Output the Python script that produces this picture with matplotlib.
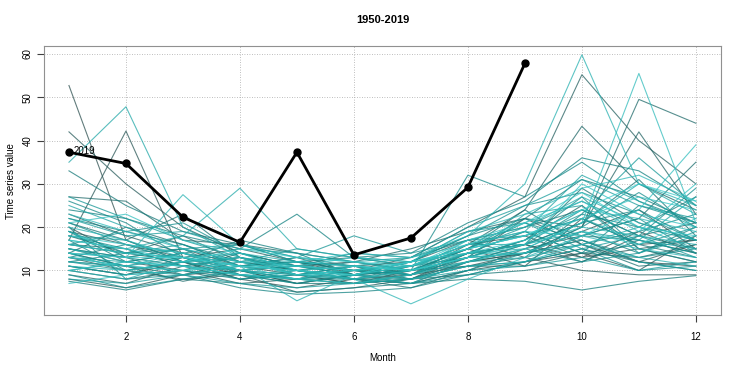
import numpy as np
import matplotlib
matplotlib.use("Agg")
import matplotlib.pyplot as plt
from matplotlib.colors import LinearSegmentedColormap

plt.rcParams["font.family"] = ["Liberation Sans", "DejaVu Sans"]

months = list(range(1, 13))
years = list(range(1950, 2019))

# one row per year, Jan..Dec
values = [
    [14, 11, 9, 10, 7, 9, 8, 12, 14, 17, 12, 11],
    [52.7, 17, 12, 9, 8, 10, 9, 14, 16, 13, 19, 14],
    [20, 13, 15, 11, 9, 7, 10, 15, 11, 22, 16, 17],
    [11, 9, 12, 8, 6, 8, 7, 10, 12, 14, 10, 18],
    [17, 42.2, 13, 10, 12, 9, 11, 16, 18, 13, 15, 12],
    [8, 6, 9, 12, 10, 8, 9, 11, 14, 19, 24, 15],
    [42, 30, 20, 14, 11, 12, 10, 13, 22, 16, 12, 16],
    [15, 12, 10, 7, 8, 11, 12, 17, 13, 10, 9, 9],
    [19, 16, 13, 15, 12, 10, 13, 20, 27, 55.2, 40, 30],
    [13, 10, 8, 9, 5, 6, 8, 14, 16, 12, 18, 21],
    [23, 18, 14, 11, 13, 9, 7, 12, 14, 20, 42, 23],
    [9, 7, 11, 13, 9, 7, 8, 13, 17, 25, 15, 17],
    [16, 14, 18, 12, 10, 11, 9, 16, 24, 43.3, 30, 24],
    [27, 26, 17, 16, 14, 12, 15, 19, 22, 20, 49.5, 44],
    [12, 11, 7.5, 10, 7, 9, 10, 11, 11, 14, 13, 16],
    [18, 14, 12, 8, 9, 8, 6, 10, 15, 18, 22, 35],
    [14, 20, 16, 11, 12, 13, 11, 15, 24, 16, 11, 12],
    [21, 17, 23, 13, 10, 9, 12, 14, 16, 29, 21, 17],
    [10, 8, 10, 14, 11, 10, 8, 9, 10, 12, 17, 14],
    [16, 15, 11, 9, 7, 7, 9, 12, 16, 21, 31, 18],
    [33, 25, 19, 16, 12, 10, 10, 14, 19, 14, 16, 13],
    [7.5, 5.5, 8, 7, 5, 6, 7, 8, 7.5, 5.5, 7.5, 8.8],
    [19, 12, 14, 10, 11, 14, 13, 17, 20, 24, 18, 15],
    [13, 16, 12, 17, 14, 9, 10, 15, 22, 31, 27, 21],
    [24, 22, 18, 15, 23, 13, 14, 21, 26, 36, 33, 25],
    [11, 9, 13, 10, 8, 8, 11, 13, 14, 19, 14, 20],
    [15, 13, 9, 6, 4.5, 5, 6, 9, 12, 15, 12, 10],
    [22, 19, 16, 12, 9, 11, 8, 11, 13, 23, 20, 27],
    [17, 10, 12, 13, 11, 9, 12, 18, 22, 18, 17, 14],
    [12, 14, 15, 9, 8, 7, 9, 14, 16, 21, 24, 17],
    [26, 21, 13, 11, 10, 12, 10, 32, 27, 35, 26, 21],
    [14, 11, 10, 8, 10, 8, 7, 10, 14, 16, 19, 23],
    [10, 12, 14, 16, 13, 11, 9, 13, 17, 27, 15, 12],
    [18, 15, 11, 10, 9, 10, 11, 16, 19, 14, 25, 21],
    [20, 8, 9, 11, 12, 8, 8, 12, 16, 24, 18, 29],
    [13, 11, 13, 9, 7, 9, 10, 15, 21, 17, 13, 15],
    [16, 19, 21, 14, 11, 10, 9, 13, 14, 20, 28, 20],
    [9, 6, 8, 10, 8, 7, 8, 11, 12, 15, 10, 11],
    [21, 16, 14, 12, 15, 13, 12, 18, 25, 28, 23, 17],
    [15, 13, 11, 8, 9, 11, 10, 12, 15, 12, 14, 19],
    [12, 10, 12, 14, 10, 8, 7, 9, 12, 18, 22, 14],
    [19, 14, 16, 11, 13, 18, 14, 17, 18, 22, 16, 20],
    [27, 22, 17, 13, 10, 9, 11, 15, 20, 26, 20, 17],
    [11, 9, 10, 9, 8, 10, 9, 14, 14, 17, 12, 10],
    [14, 13, 15, 16, 12, 11, 10, 13, 17, 23, 36, 25],
    [18, 17, 12, 10, 11, 9, 12, 19, 21, 15, 18, 13],
    [8, 7, 9, 7, 6, 7, 8, 10, 11, 13, 10, 12],
    [22, 18, 19, 15, 14, 12, 13, 20, 25, 31, 25, 22],
    [13, 12, 11, 13, 9, 10, 11, 16, 16, 19, 17, 27],
    [16, 14, 13, 11, 10, 8, 10, 13, 23, 25, 14, 18],
    [25, 20, 15, 12, 12, 11, 9, 14, 19, 32, 26, 20],
    [10, 8, 12, 10, 8, 9, 7, 12, 13, 16, 20, 15],
    [35, 47.8, 20, 13, 11, 10, 12, 15, 18, 22, 17, 15],
    [17, 15, 18, 29, 15, 13, 11, 14, 15, 21, 30, 23],
    [12, 11, 14, 10, 9, 8, 10, 17, 20, 27, 21, 17],
    [14, 10, 9, 11, 3, 9, 8, 11, 12, 16, 13, 11],
    [20, 17, 13, 14, 12, 11, 13, 18, 30, 59.8, 30, 25],
    [19, 13, 27.5, 16, 13, 12, 10, 14, 16, 20, 18, 16],
    [15, 12, 11, 9, 10, 8, 2.3, 8, 13, 18, 15, 13],
    [11, 10, 12, 13, 9, 10, 11, 15, 18, 24, 22, 19],
    [23, 19, 15, 12, 11, 13, 12, 19, 23, 29, 32, 26],
    [7, 9, 10, 11, 8, 7, 9, 12, 15, 21, 55.5, 21],
    [16, 14, 13, 10, 12, 14, 13, 16, 19, 18, 24, 39],
    [21, 23, 17, 14, 10, 11, 10, 13, 16, 30, 23, 20],
    [13, 11, 10, 12, 9, 9, 11, 17, 21, 26, 19, 30],
    [18, 16, 14, 11, 11, 10, 12, 14, 17, 22, 27, 24],
    [10, 12, 11, 9, 8, 11, 10, 13, 14, 19, 16, 22],
    [17, 15, 12, 15, 13, 12, 11, 16, 21, 28, 20, 18],
    [14, 13, 13, 11, 10, 9, 12, 15, 18, 24, 30, 26],
]

months_2019 = list(range(1, 10))
values_2019 = [37.3, 34.7, 22.3, 16.5, 37.3, 13.6, 17.5, 29.2, 57.8]

fig = plt.figure(figsize=(7.44, 3.72), dpi=100)
ax = fig.add_axes([0.059, 0.153, 0.91, 0.723])

cmap = LinearSegmentedColormap.from_list("teal", ["#2f4f4f", "#137f7f", "#179a9a", "#3ccaca"])
n = len(values)
for i, row in enumerate(values):
    ax.plot(months, row, color=cmap(i / (n - 1)), lw=0.8, alpha=0.75)

ax.plot(months_2019, values_2019, color="black", lw=2, marker="o", ms=5, zorder=5)
ax.text(months_2019[0] + 0.08, values_2019[0] + 0.3, "2019", fontsize=7, va="center", zorder=6)

ax.set_xlim(0.56, 12.44)
ax.set_ylim(-0.3, 61.8)
ax.set_xticks([2, 4, 6, 8, 10, 12])
ax.set_yticks([10, 20, 30, 40, 50, 60])
ax.grid(True, color="#a8a8a8", linestyle=(0, (1, 2)), lw=0.6)
ax.set_axisbelow(True)
for s in ax.spines.values():
    s.set_color("#909090")
ax.tick_params(axis="both", labelsize=7, direction="out", length=5, color="#404040")
ax.tick_params(axis="x", pad=7)
ax.tick_params(axis="y", pad=3)
for lab in ax.get_yticklabels():
    lab.set_rotation(90)
    lab.set_va("center")

ax.set_title("1950-2019", fontsize=8, fontweight="bold", pad=17)
ax.set_xlabel("Month", fontsize=7, labelpad=8)
ax.set_ylabel("Time series value", fontsize=7)
ax.yaxis.set_label_coords(-0.041, 0.5)

fig.savefig("out.png", dpi=100)
